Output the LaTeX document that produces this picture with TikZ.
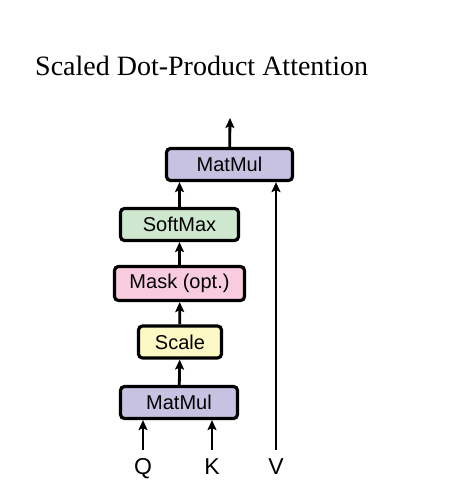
\documentclass[tikz,border=0pt]{standalone}
\usepackage{fontspec}
\setmainfont{Liberation Serif}
\setsansfont{Liberation Sans}
\usetikzlibrary{arrows.meta}

\definecolor{mmcol}{RGB}{200,194,226}
\definecolor{smcol}{RGB}{205,232,207}
\definecolor{mkcol}{RGB}{248,204,222}
\definecolor{sccol}{RGB}{253,249,196}

\tikzset{
  opbox/.style={draw=black, line width=3.2pt, rounded corners=4pt, minimum height=32pt,
    inner sep=0pt, font=\sffamily\fontsize{20}{20}\selectfont},
  flow/.style={line width=2.8pt, -{Stealth[length=10pt,width=9pt,inset=2pt]}},
  inlabel/.style={font=\sffamily\fontsize{23}{23}\selectfont, inner sep=0pt,
    text height=17pt, text depth=0pt, anchor=base}
}

\begin{document}
\begin{tikzpicture}[x=1pt,y=-1pt]
  \useasboundingbox (0,0) rectangle (456,503);
  \node[anchor=base west, font=\fontsize{28}{28}\selectfont, inner sep=0pt] (title) at (35,75) {Scaled Dot-Product Attention};

  % the stack of operations
  \node[opbox, fill=mmcol, minimum width=117pt] (mmlow) at (179,402.5) {MatMul};
  \node[opbox, fill=sccol, minimum width=83pt] (scale) at (180,342) {Scale};
  \node[opbox, fill=mkcol, minimum width=130pt, minimum height=34pt] (mask) at (179.5,283.5) {Mask (opt.)};
  \node[opbox, fill=smcol, minimum width=118pt] (softmax) at (179.5,224.5) {SoftMax};
  \node[opbox, fill=mmcol, minimum width=126pt] (mmtop) at (229.5,164.5) {MatMul};
  \coordinate (out) at (230,118);

  % inputs
  \node[inlabel] (q) at (143,474) {Q};
  \node[inlabel] (k) at (212,474) {K};
  \node[inlabel] (v) at (276,474) {V};

  \draw[flow] ([yshift=7pt]q.north) -- (q |- mmlow.south);
  \draw[flow] ([yshift=7pt]k.north) -- (k |- mmlow.south);
  \draw[flow] ([yshift=7pt]v.north) -- (v |- mmtop.south);
  \draw[flow] (mmlow) -- (scale);
  \draw[flow] (scale) -- (mask);
  \draw[flow] (mask) -- (softmax);
  \draw[flow] (softmax.north) -- (softmax.north |- mmtop.south);
  \draw[flow] (mmtop) -- (out);
\end{tikzpicture}
\end{document}
